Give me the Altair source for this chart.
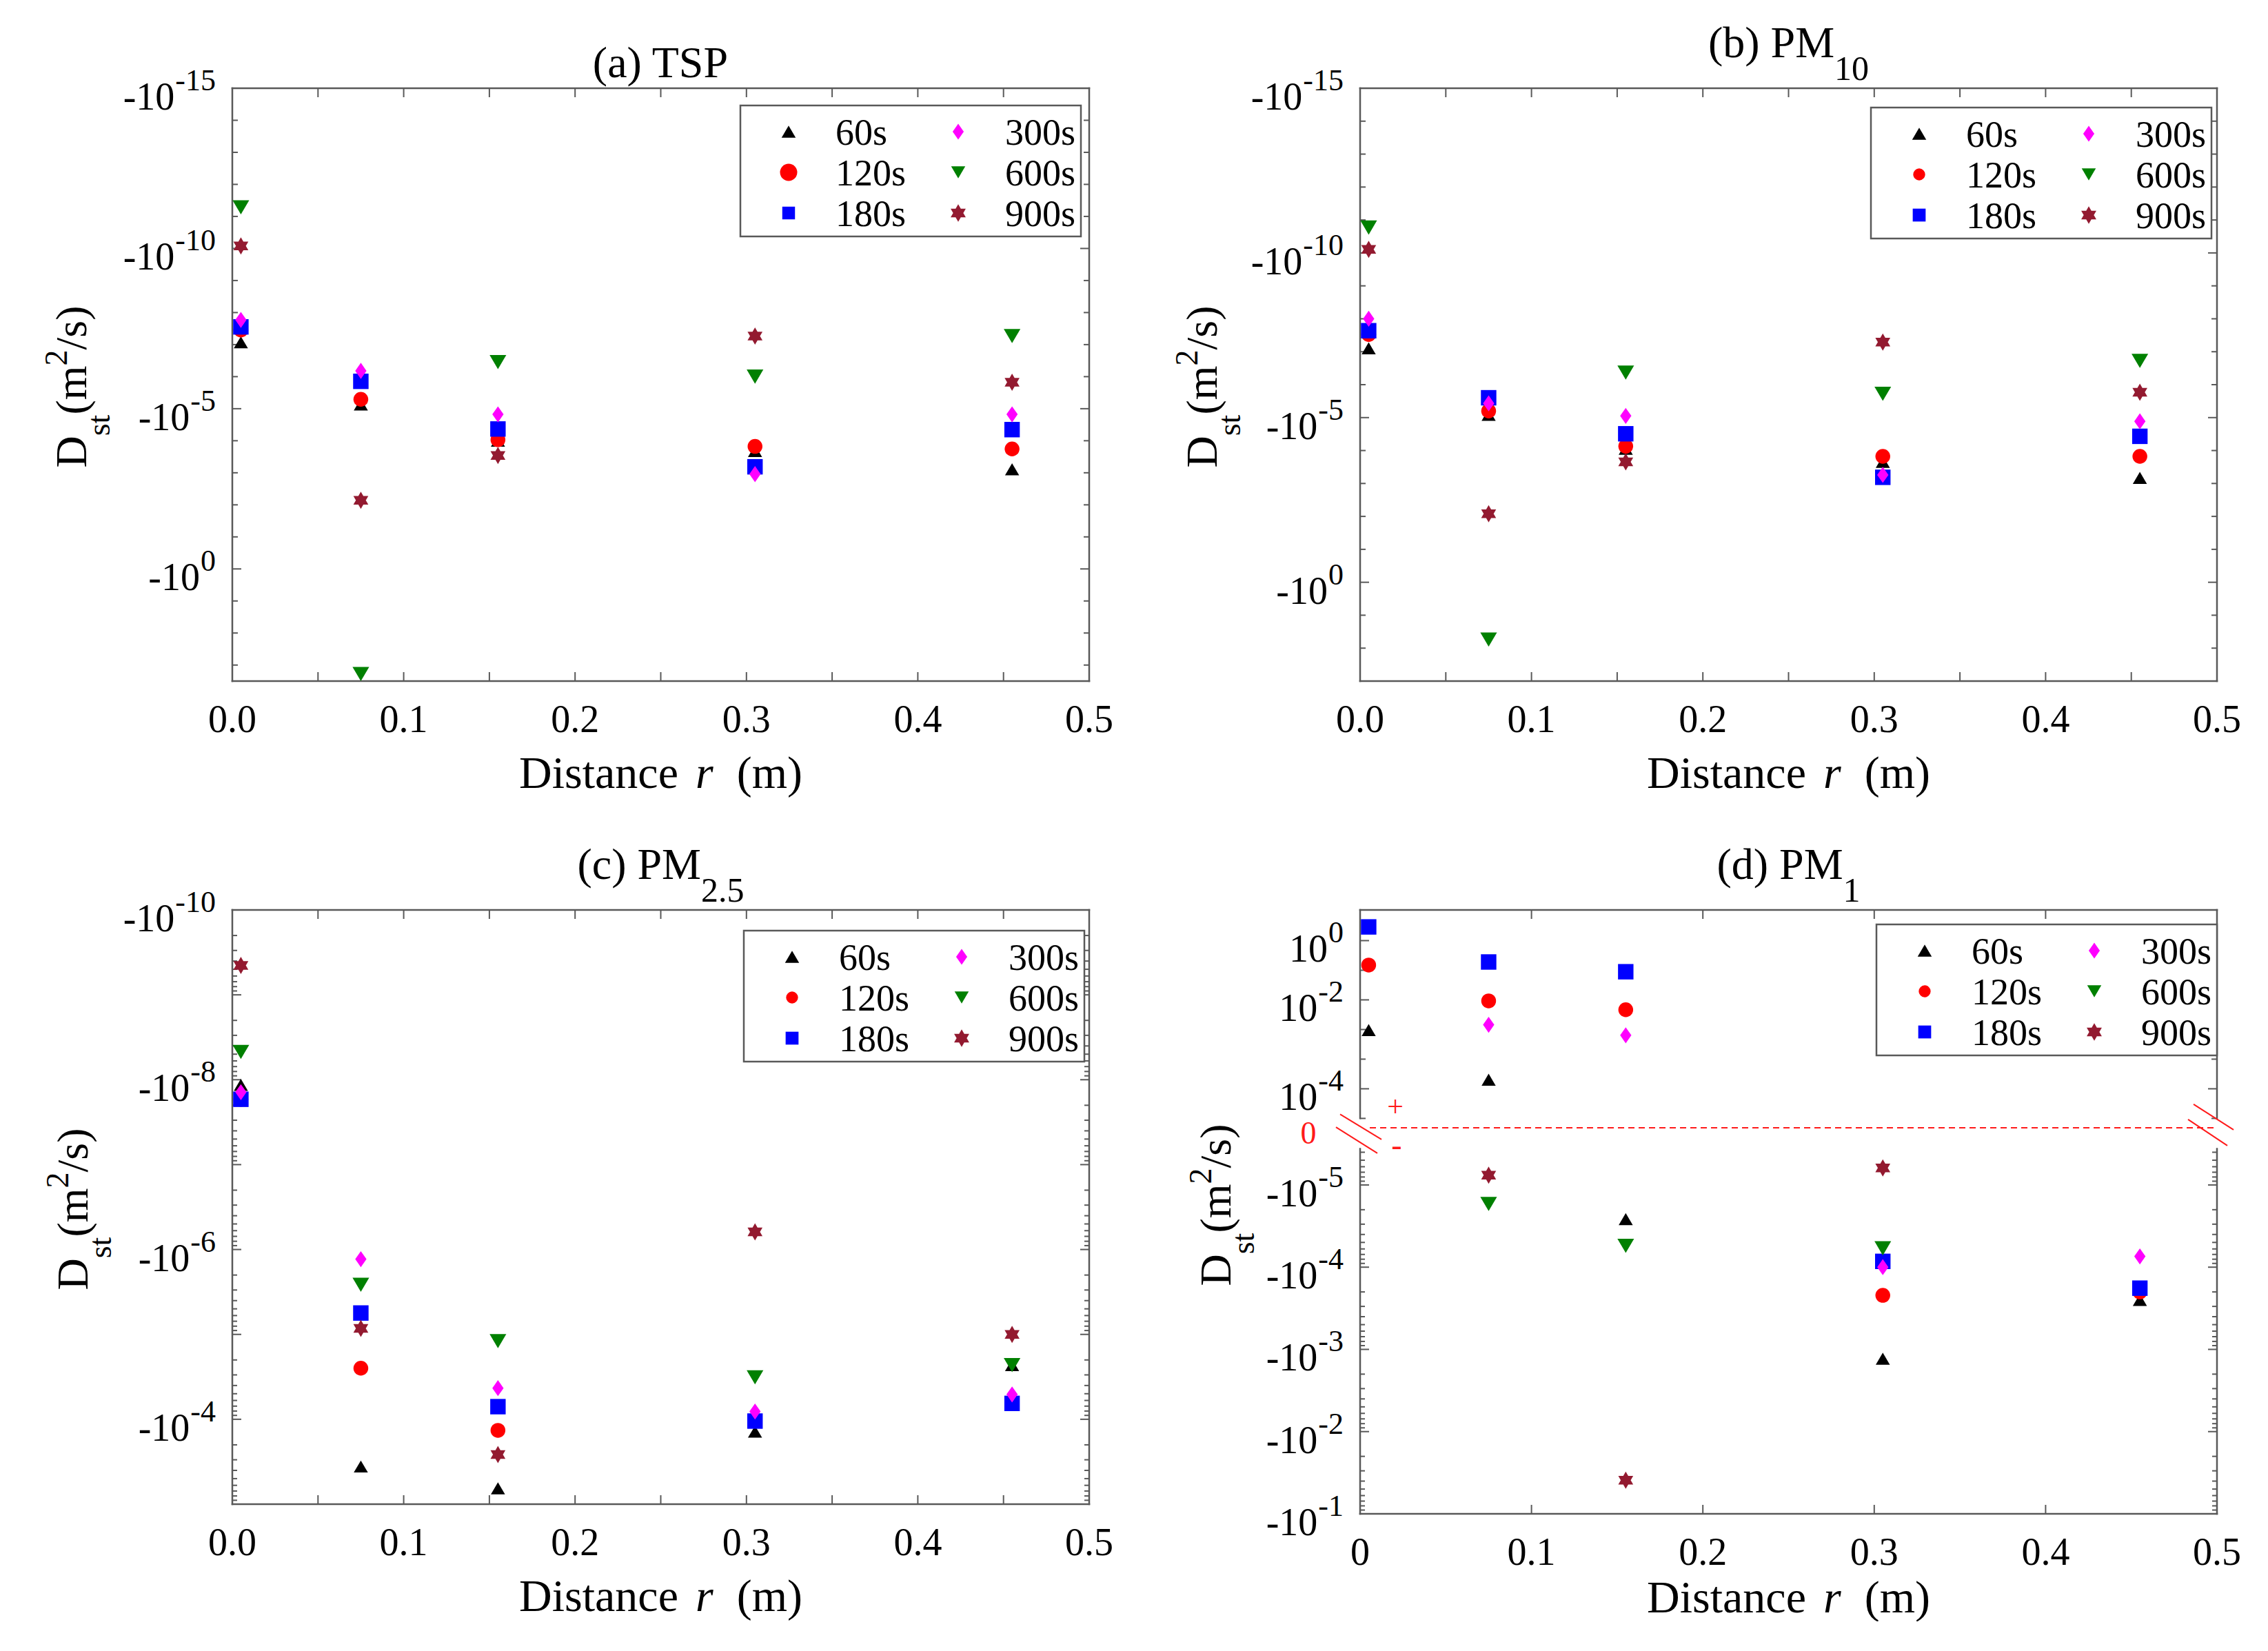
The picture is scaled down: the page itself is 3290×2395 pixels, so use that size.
import math
import altair as alt
import pandas as pd

FONT = "Liberation Serif, Times New Roman, serif"
AXC = "#595959"
RED = "#FF1A1A"

# ---------------- data ----------------
R = [0.005, 0.075, 0.155, 0.305, 0.455]
SERIES = ["60s", "120s", "180s", "300s", "600s", "900s"]
COLORS = ["#000000", "#FF0000", "#0000FF", "#FF00FF", "#008000", "#931A30"]

# (a) TSP  (Dst, m^2/s)
TSP_60 = [-8.5e-8, -7.4e-6, -1.0e-4, -2.1e-4, -7.8e-4]
TSP_120 = [-3.5e-8, -5.1e-6, -9.3e-5, -1.5e-4, -1.8e-4]
TSP_180 = [-2.8e-8, -1.4e-6, -4.3e-5, -6.5e-4, -4.5e-5]
TSP_300 = [-1.7e-8, -6.6e-7, -1.5e-5, -1.1e-3, -1.5e-5]
TSP_600 = [-5.2e-12, -1.9e3, -3.5e-7, -1.0e-6, -5.4e-8]
TSP_900 = [-8.3e-11, -7.2e-3, -2.9e-4, -5.4e-8, -1.5e-6]
# (b) PM10
PM10_60 = [-7.9e-8, -8.3e-6, -8.9e-5, -2.2e-4, -6.8e-4]
PM10_120 = [-3.0e-8, -6.3e-6, -7.4e-5, -1.5e-4, -1.5e-4]
PM10_180 = [-2.3e-8, -2.5e-6, -3.1e-5, -6.5e-4, -3.7e-5]
PM10_300 = [-1.0e-8, -3.7e-6, -8.9e-6, -5.5e-4, -1.3e-5]
PM10_600 = [-1.7e-11, -55.0, -4.3e-7, -1.9e-6, -1.9e-7]
PM10_900 = [-7.8e-11, -8.3e-3, -2.2e-4, -5.1e-8, -1.7e-6]
# (c) PM2.5
PM25_60 = [-1.15e-8, -3.6e-4, -6.5e-4, -1.4e-4, -2.3e-5]
PM25_120 = [-1.7e-8, -2.5e-5, -1.35e-4, -1.05e-4, -6.5e-5]
PM25_180 = [-1.7e-8, -5.6e-6, -7.1e-5, -1.05e-4, -6.5e-5]
PM25_300 = [-1.4e-8, -1.3e-6, -4.3e-5, -8.1e-5, -5.1e-5]
PM25_600 = [-4.7e-9, -2.6e-6, -1.2e-5, -3.2e-5, -2.3e-5]
PM25_900 = [-4.5e-10, -8.5e-6, -2.6e-4, -6.2e-7, -1.0e-5]
# (d) PM1 (positive and negative values)
PM1_60 = [2.1e-3, 1.6e-4, -2.6e-5, -1.3e-3, -2.5e-4]
PM1_120 = [0.15, 9.5e-3, 6.0e-3, -2.2e-4, -2.0e-4]
PM1_180 = [2.9, 0.19, 0.089, -8.5e-5, -1.8e-4]
PM1_300 = [None, 2.75e-3, 1.6e-3, -1.0e-4, -7.4e-5]
PM1_600 = [None, -1.7e-5, -5.5e-5, -5.9e-5, None]
PM1_900 = [None, -7.6e-6, -3.9e-2, -6.2e-6, None]

X_TICKS = [0.05, 0.1, 0.15, 0.2, 0.25, 0.3, 0.35, 0.4, 0.45]
X_TICKS_D = [0.1, 0.2, 0.3, 0.4]
X_LABELS = ["0.0", "0.1", "0.2", "0.3", "0.4", "0.5"]
X_LABELS_D = ["0", "0.1", "0.2", "0.3", "0.4", "0.5"]
X_LABEL_POS = [0.0, 0.1, 0.2, 0.3, 0.4, 0.5]

# ---------------- markers ----------------
TRI_UP = "M0,-0.85L1,0.85L-1,0.85Z"
TRI_DN = "M0,0.85L1,-0.85L-1,-0.85Z"
DIAMOND = "M0,-1L0.7,0L0,1L-0.7,0Z"
HEXAGRAM = "M0,-1L0.866,0.5L-0.866,0.5Z M0,1L-0.866,-0.5L0.866,-0.5Z"
SHAPES = [TRI_UP, "circle", "square", DIAMOND, TRI_DN, HEXAGRAM]
SIZES_A = [420, 625, 340, 530, 420, 640]
SIZES = [420, 300, 350, 530, 420, 640]

WID = {' ': 0.25, '(': 0.333, ')': 0.333, 'a': 0.444, 'b': 0.5, 'c': 0.444, 'd': 0.5,
       'T': 0.611, 'S': 0.556, 'P': 0.556, 'M': 0.889, 'D': 0.722, 'i': 0.278, 's': 0.389,
       't': 0.278, 'n': 0.5, 'e': 0.444, 'r': 0.389, 'm': 0.778, '/': 0.278, '-': 0.333, '.': 0.25}

ONE = pd.DataFrame({"k": [0]})
W = 1243


def tw(s, fs):
    return fs * sum(WID.get(c, 0.5) for c in s)


def txt(s, x, y, fs, align="left", angle=0, color="#000000", italic=False):
    props = dict(text=s, font=FONT, fontSize=fs, align=align, baseline="alphabetic", color=color)
    if angle:
        props["angle"] = angle
    if italic:
        props["fontStyle"] = "italic"
    return alt.Chart(ONE).mark_text(**props).encode(x=alt.value(x), y=alt.value(y))


def seg(x1, y1, x2, y2, color=AXC, width=2.5, dash=None, opacity=1.0, cap="square"):
    props = dict(color=color, strokeWidth=width, strokeCap=cap)
    if dash:
        props["strokeDash"] = dash
    if opacity != 1.0:
        props["opacity"] = opacity
    return alt.Chart(ONE).mark_rule(**props).encode(
        x=alt.value(x1), y=alt.value(y1), x2=alt.value(x2), y2=alt.value(y2))


# ---------- broken axis for (d) ----------
D_TOP, D_BOT = -3.345, 4.0


def top_u(e):
    # positive branch (upper part of the broken axis)
    if e >= -2:
        return -2.972 - e * 0.3604
    return -2.251 + (-2 - e) * 0.5406


def tf_d(v):
    e = math.log10(abs(v))
    return top_u(e) if v > 0 else e + 5


def tf_log(v):
    return math.log10(abs(v))


def build_panel(cfg):
    H = cfg["H"]
    dom = cfg["dom"]
    xsc = alt.Scale(domain=[0, 0.5], nice=False, zero=False)
    ysc = alt.Scale(domain=list(dom), reverse=True, nice=False, zero=False)

    def px(u):
        return (u - dom[0]) / (dom[1] - dom[0]) * H

    rows = []
    for k, (s, vals) in enumerate(zip(SERIES, cfg["vals"])):
        for r, v in zip(R, vals):
            if v is None:
                continue
            rows.append({"series": s, "r": r, "D": v, "pos": cfg["tf"](v), "k": k})
    df = pd.DataFrame(rows)

    layers = []
    # frame
    layers.append(seg(0, 0, W, 0))
    layers.append(seg(0, H, W, H))
    if cfg.get("broken"):
        ya, yb = px(-0.81), px(-0.44)
        for xx in (0, W):
            layers.append(seg(xx, 0, xx, ya))
            layers.append(seg(xx, yb, xx, H))
    else:
        layers.append(seg(0, 0, 0, H))
        layers.append(seg(W, 0, W, H))

    # y ticks (left and right, inward)
    for length, vals in cfg["yticks"].items():
        tdf = pd.DataFrame({"pos": vals})
        base = alt.Chart(tdf).mark_rule(color=AXC, strokeWidth=2)
        layers.append(base.encode(y=alt.Y("pos:Q", scale=ysc, axis=None),
                                  x=alt.value(0), x2=alt.value(length)))
        layers.append(base.encode(y=alt.Y("pos:Q", scale=ysc, axis=None),
                                  x=alt.value(W - length), x2=alt.value(W)))
    # x ticks (bottom and top, inward)
    xdf = pd.DataFrame({"t": cfg["xt"]})
    xb = alt.Chart(xdf).mark_rule(color=AXC, strokeWidth=2)
    layers.append(xb.encode(x=alt.X("t:Q", scale=xsc, axis=None), y=alt.value(H - 13), y2=alt.value(H)))
    layers.append(xb.encode(x=alt.X("t:Q", scale=xsc, axis=None), y=alt.value(0), y2=alt.value(13)))

    # x tick labels
    xl = pd.DataFrame({"t": X_LABEL_POS, "lab": cfg["xl"]})
    layers.append(alt.Chart(xl).mark_text(font=FONT, fontSize=56, align="center", baseline="alphabetic").encode(
        x=alt.X("t:Q", scale=xsc, axis=None), y=alt.value(H + 74), text="lab:N"))

    # y tick labels: base "-10" + superscript exponent
    for pos, main, ex in cfg["ylabels"]:
        d1 = pd.DataFrame({"pos": [pos]})
        ew = tw(ex, 44)
        layers.append(alt.Chart(d1).mark_text(text=ex, font=FONT, fontSize=44, align="right",
                                              baseline="alphabetic", dy=3).encode(
            x=alt.value(-24), y=alt.Y("pos:Q", scale=ysc, axis=None)))
        layers.append(alt.Chart(d1).mark_text(text=main, font=FONT, fontSize=56, align="right",
                                              baseline="alphabetic", dy=31).encode(
            x=alt.value(-25 - ew), y=alt.Y("pos:Q", scale=ysc, axis=None)))

    # extras for broken axis
    if cfg.get("broken"):
        z = px(-0.696)
        layers.append(seg(14, z, W, z, color=RED, width=2, dash=[9, 6], cap="butt"))
        layers.append(seg(-29, z - 19.6, 31, z + 17, color=RED, width=2, cap="butt"))
        layers.append(seg(-35, z - 0.9, 25, z + 37, color=RED, width=2, cap="butt"))
        layers.append(seg(W - 34, z - 34, W + 24, z + 3, color=RED, width=2, cap="butt"))
        layers.append(seg(W - 42, z - 12, W + 15, z + 26, color=RED, width=2, cap="butt"))
        layers.append(txt("0", -75, z + 23, 46, align="center", color=RED))
        layers.append(txt("+", 51, z - 17, 42, align="center", color=RED))
        layers.append(txt("-", 53, z + 40, 46, align="center", color=RED))

    # data points
    sizes = cfg["sizes"]
    layers.append(alt.Chart(df).mark_point(filled=True, opacity=1, strokeWidth=0).encode(
        x=alt.X("r:Q", scale=xsc, axis=None),
        y=alt.Y("pos:Q", scale=ysc, axis=None),
        color=alt.Color("series:N", scale=alt.Scale(domain=SERIES, range=COLORS), legend=None),
        shape=alt.Shape("series:N", scale=alt.Scale(domain=SERIES, range=SHAPES), legend=None),
        size=alt.Size("series:O", scale=alt.Scale(domain=SERIES, range=sizes), legend=None),
        order=alt.Order("k:Q"),
    ))

    # legend
    bx, by = cfg["leg"]
    layers.append(alt.Chart(ONE).mark_rect(fill="white", stroke=AXC, strokeWidth=2.5).encode(
        x=alt.value(bx), x2=alt.value(bx + 494), y=alt.value(by), y2=alt.value(by + 190)))
    for i, s in enumerate(SERIES):
        col, row = i // 3, i % 3
        sx = bx + 70 + col * 246
        sy = by + 38 + row * 59
        layers.append(alt.Chart(ONE).mark_point(filled=True, opacity=1, strokeWidth=0, shape=SHAPES[i],
                                                size=sizes[i], color=COLORS[i]).encode(
            x=alt.value(sx), y=alt.value(sy)))
        layers.append(txt(s, bx + 138 + col * 246, sy + 19, 54))

    # panel title (with subscript)
    pieces = cfg["title"]
    total = sum(tw(t, fs) for t, fs, _ in pieces)
    cx = W / 2 - total / 2
    for t, fs, sh in pieces:
        layers.append(txt(t, cx, cfg["tb"] + sh, fs))
        cx += tw(t, fs)

    # x axis title: "Distance r (m)"
    xt_pieces = [("Distance", 66, False, 25), ("r", 66, True, 34), ("(m)", 66, False, 0)]
    total = sum(tw(t, fs) + g for t, fs, _, g in xt_pieces)
    cx = W / 2 - total / 2
    for t, fs, it, g in xt_pieces:
        layers.append(txt(t, cx, H + cfg["xtb"], fs, italic=it))
        cx += tw(t, fs) + g

    # y axis title: D_st(m^2/s), rotated
    yt_pieces = [("D", 64, 0), ("st", 46, 34), ("(m", 64, 0), ("2", 46, -28), ("/s)", 64, 0)]
    total = sum(tw(t, fs) for t, fs, _ in yt_pieces)
    cy = cfg["ytc"] + total / 2
    for t, fs, sh in yt_pieces:
        layers.append(txt(t, cfg["ytx"] + sh, cy, fs, angle=270))
        cy -= tw(t, fs)

    if cfg.get("anchor"):
        layers.append(seg(-329, -120, -329, -119, opacity=0, width=1, cap="butt"))

    return alt.layer(*layers).properties(width=W, height=H)


def log_ticks_ab(bottom):
    labeled = [-10, -5, 0]
    mids = [e for e in range(-14, bottom + 1) if e not in labeled]
    return {13: labeled, 8: mids}


c_minor = [k + math.log10(m) for k in range(-10, -3) for m in range(2, 10)]
d_minor = [k + math.log10(m) + 5 for k in range(-6, -1) for m in range(2, 10)
           if -0.44 < k + math.log10(m) + 5 < 4.0]
d_top_major = [top_u(0), top_u(-2), top_u(-4)]
d_top_mid = [top_u(-1), top_u(-2 - 2 / 3), top_u(-2 - 4 / 3), top_u(-4 - 2 / 3)]

common_ylab = [(-15, "-10", "-15"), (-10, "-10", "-10"), (-5, "-10", "-5"), (0, "-10", "0")]

cfg_a = dict(H=860, dom=(-15, 3.5), tf=tf_log,
             vals=[TSP_60, TSP_120, TSP_180, TSP_300, TSP_600, TSP_900],
             sizes=SIZES_A, yticks=log_ticks_ab(3), xt=X_TICKS, xl=X_LABELS,
             ylabels=common_ylab, leg=(737, 25), title=[("(a) TSP", 64, 0)], tb=-16,
             xtb=155, ytx=-212, ytc=433, anchor=True)
cfg_b = dict(H=860, dom=(-15, 3), tf=tf_log,
             vals=[PM10_60, PM10_120, PM10_180, PM10_300, PM10_600, PM10_900],
             sizes=SIZES, yticks=log_ticks_ab(2), xt=X_TICKS, xl=X_LABELS,
             ylabels=common_ylab, leg=(741, 28), title=[("(b) PM", 64, 0), ("10", 50, 33)], tb=-45,
             xtb=155, ytx=-208, ytc=433)
cfg_c = dict(H=862, dom=(-10, -3), tf=tf_log,
             vals=[PM25_60, PM25_120, PM25_180, PM25_300, PM25_600, PM25_900],
             sizes=SIZES, yticks={13: [-9, -8, -7, -6, -5, -4], 7: c_minor}, xt=X_TICKS, xl=X_LABELS,
             ylabels=[(-10, "-10", "-10"), (-8, "-10", "-8"), (-6, "-10", "-6"), (-4, "-10", "-4")],
             leg=(742, 30), title=[("(c) PM", 64, 0), ("2.5", 50, 33)], tb=-45,
             xtb=155, ytx=-210, ytc=434)
cfg_d = dict(H=876, dom=(D_TOP, D_BOT), tf=tf_d, broken=True,
             vals=[PM1_60, PM1_120, PM1_180, PM1_300, PM1_600, PM1_900],
             sizes=SIZES, yticks={13: d_top_major + [0, 1, 2, 3], 8: d_top_mid, 7: d_minor},
             xt=X_TICKS_D, xl=X_LABELS_D,
             ylabels=[(top_u(0), "10", "0"), (top_u(-2), "10", "-2"), (top_u(-4), "10", "-4"),
                      (0, "-10", "-5"), (1, "-10", "-4"), (2, "-10", "-3"), (3, "-10", "-2"),
                      (4, "-10", "-1")],
             leg=(749, 21), title=[("(d) PM", 64, 0), ("1", 50, 33)], tb=-45,
             xtb=143, ytx=-188, ytc=428)

pa, pb, pc, pd_ = (build_panel(c) for c in (cfg_a, cfg_b, cfg_c, cfg_d))

chart = alt.concat(pa, pb, pc, pd_, columns=2,
                   spacing={"row": 1192 - 876, "column": 393},
                   bounds="flush", align="all").properties(padding=0).configure_view(stroke=None)

chart.save("out.html", embed_options={"renderer": "svg", "actions": False})
